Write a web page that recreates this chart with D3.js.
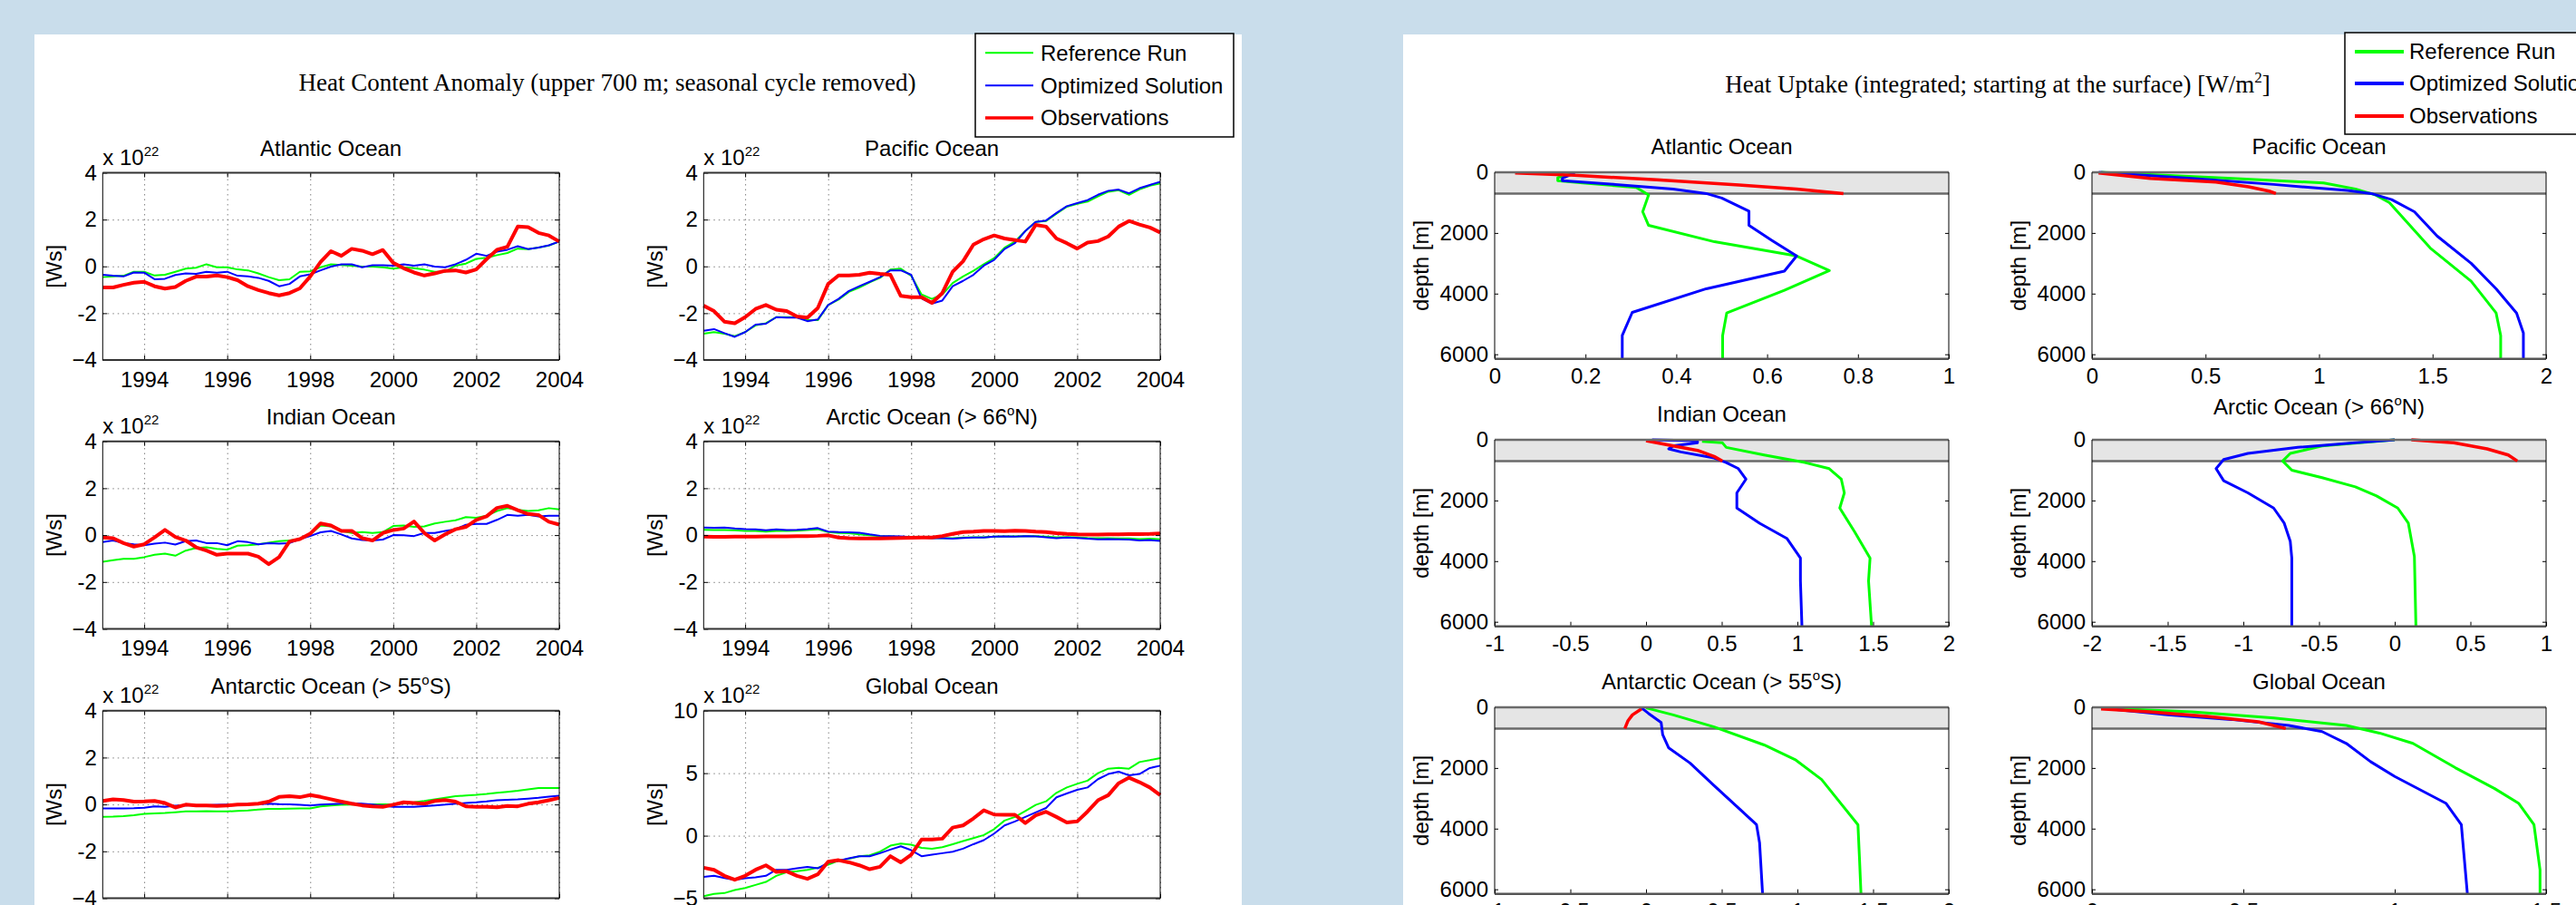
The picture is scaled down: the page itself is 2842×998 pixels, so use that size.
<!DOCTYPE html>
<html><head><meta charset="utf-8">
<script src="https://cdn.jsdelivr.net/npm/d3@7"></script>
<style>
html,body{margin:0;padding:0;background:#c9ddeb;}
svg{display:block;}
</style></head><body>
<svg id="c" width="2842" height="998"></svg>
<script>
// ---------------- DATA ----------------
const legendLabels = ["Reference Run", "Optimized Solution", "Observations"];

// Left: heat content anomaly (x 10^22 Ws), quarterly samples 1993..2004
const years = [1993,1993.25,1993.5,1993.75,1994,1994.25,1994.5,1994.75,1995,1995.25,1995.5,1995.75,
  1996,1996.25,1996.5,1996.75,1997,1997.25,1997.5,1997.75,1998,1998.25,1998.5,1998.75,
  1999,1999.25,1999.5,1999.75,2000,2000.25,2000.5,2000.75,2001,2001.25,2001.5,2001.75,
  2002,2002.25,2002.5,2002.75,2003,2003.25,2003.5,2003.75,2004];
const yearTicks = [1994, 1996, 1998, 2000, 2002, 2004];
const hcYTicks = [-4, -2, 0, 2, 4];
const hcYTickLabels = ["\u22124", "-2", "0", "2", "4"];
const gloYTicks = [-5, 0, 5, 10];
const gloYTickLabels = ["\u22125", "0", "5", "10"];

const hcAtlRef = [-0.46,-0.43,-0.40,-0.23,-0.23,-0.39,-0.36,-0.23,-0.10,-0.06,0.09,-0.04,-0.04,-0.13,-0.17,-0.30,-0.46,-0.59,-0.55,-0.23,-0.21,-0.04,0.09,0.06,0.03,-0.01,-0.01,-0.04,-0.10,-0.04,-0.08,-0.14,-0.23,-0.23,0.03,0.12,0.32,0.37,0.48,0.57,0.76,0.74,0.80,0.89,1.06];
const hcAtlOpt = [-0.36,-0.40,-0.43,-0.26,-0.27,-0.55,-0.53,-0.37,-0.30,-0.32,-0.23,-0.27,-0.23,-0.40,-0.43,-0.49,-0.62,-0.85,-0.75,-0.43,-0.34,-0.17,-0.01,0.09,0.09,-0.04,0.05,0.05,0.03,0.09,0.03,0.09,-0.01,-0.04,0.09,0.28,0.54,0.45,0.63,0.71,0.86,0.74,0.80,0.90,1.06];
const hcAtlObs = [-0.90,-0.90,-0.79,-0.70,-0.66,-0.85,-0.95,-0.88,-0.62,-0.44,-0.44,-0.39,-0.46,-0.59,-0.85,-1.01,-1.14,-1.24,-1.14,-0.94,-0.43,0.19,0.65,0.45,0.75,0.67,0.52,0.70,0.15,-0.08,-0.26,-0.39,-0.30,-0.19,-0.17,-0.26,-0.13,0.31,0.71,0.84,1.70,1.68,1.43,1.32,1.06];

const hcPacRef = [-2.88,-2.81,-2.88,-2.98,-2.81,-2.52,-2.43,-2.17,-2.17,-2.17,-2.30,-2.30,-1.65,-1.42,-1.09,-0.90,-0.68,-0.49,-0.14,-0.10,-0.40,-1.20,-1.39,-1.20,-0.71,-0.43,-0.19,0.09,0.35,0.80,1.06,1.51,1.90,1.94,2.25,2.55,2.67,2.77,2.99,3.19,3.25,3.06,3.29,3.45,3.54];
const hcPacOpt = [-2.75,-2.68,-2.85,-3.01,-2.81,-2.49,-2.45,-2.17,-2.19,-2.19,-2.34,-2.27,-1.65,-1.39,-1.05,-0.85,-0.66,-0.46,-0.17,-0.17,-0.36,-1.37,-1.59,-1.46,-0.85,-0.62,-0.36,0.03,0.28,0.74,0.99,1.51,1.90,1.96,2.28,2.57,2.70,2.83,3.06,3.23,3.28,3.12,3.34,3.48,3.61];
const hcPacObs = [-1.68,-1.91,-2.36,-2.43,-2.17,-1.82,-1.65,-1.85,-1.91,-2.14,-2.19,-1.78,-0.75,-0.39,-0.39,-0.36,-0.27,-0.32,-0.36,-1.26,-1.32,-1.32,-1.56,-1.14,-0.23,0.22,0.93,1.16,1.32,1.19,1.12,1.06,1.77,1.70,1.19,0.99,0.76,1.02,1.08,1.28,1.70,1.94,1.79,1.66,1.45];

const hcIndRef = [-1.14,-1.07,-1.01,-1.01,-0.94,-0.84,-0.79,-0.88,-0.66,-0.55,-0.52,-0.59,-0.62,-0.45,-0.43,-0.39,-0.32,-0.26,-0.23,-0.17,0.03,0.41,0.37,0.18,0.09,0.13,0.09,0.13,0.39,0.41,0.35,0.37,0.50,0.57,0.63,0.77,0.74,0.83,1.03,1.15,1.08,1.03,1.06,1.15,1.10];
const hcIndOpt = [-0.30,-0.23,-0.34,-0.39,-0.43,-0.36,-0.32,-0.40,-0.26,-0.23,-0.34,-0.34,-0.43,-0.26,-0.30,-0.39,-0.34,-0.36,-0.34,-0.17,-0.04,0.12,0.18,0.03,-0.14,-0.21,-0.23,-0.19,0.00,-0.01,-0.04,0.09,0.09,0.18,0.25,0.44,0.48,0.48,0.65,0.86,0.83,0.86,0.80,0.83,0.83];
const hcIndObs = [-0.10,-0.13,-0.34,-0.49,-0.39,-0.10,0.22,-0.08,-0.23,-0.52,-0.66,-0.84,-0.79,-0.79,-0.79,-0.92,-1.24,-0.94,-0.27,-0.17,0.06,0.50,0.41,0.18,0.18,-0.13,-0.23,0.09,0.22,0.28,0.58,0.09,-0.23,0.03,0.25,0.35,0.65,0.80,1.16,1.25,1.06,0.90,0.86,0.57,0.45];

const hcArcRef = [0.23,0.22,0.22,0.21,0.18,0.18,0.15,0.18,0.18,0.19,0.22,0.25,0.13,0.09,0.08,0.03,-0.01,-0.04,-0.05,-0.08,-0.09,-0.10,-0.12,-0.13,-0.13,-0.10,-0.09,-0.09,-0.06,-0.05,-0.05,-0.04,-0.04,-0.06,-0.09,-0.08,-0.09,-0.12,-0.13,-0.13,-0.14,-0.14,-0.17,-0.15,-0.18];
const hcArcOpt = [0.32,0.31,0.32,0.28,0.26,0.25,0.21,0.25,0.22,0.23,0.26,0.30,0.15,0.13,0.12,0.10,0.03,-0.03,-0.04,-0.05,-0.08,-0.10,-0.13,-0.13,-0.15,-0.12,-0.10,-0.10,-0.06,-0.05,-0.06,-0.04,-0.05,-0.09,-0.13,-0.10,-0.12,-0.15,-0.18,-0.17,-0.18,-0.19,-0.23,-0.21,-0.25];
const hcArcObs = [-0.06,-0.07,-0.07,-0.06,-0.06,-0.06,-0.05,-0.05,-0.05,-0.04,-0.04,-0.03,-0.01,-0.10,-0.13,-0.14,-0.14,-0.14,-0.13,-0.12,-0.11,-0.10,-0.10,-0.04,0.05,0.13,0.15,0.18,0.18,0.17,0.19,0.18,0.15,0.13,0.08,0.05,0.03,0.02,0.02,0.03,0.03,0.04,0.04,0.05,0.07];

const hcAntRef = [-0.53,-0.52,-0.50,-0.46,-0.40,-0.38,-0.36,-0.33,-0.30,-0.30,-0.29,-0.30,-0.30,-0.28,-0.26,-0.22,-0.19,-0.19,-0.18,-0.17,-0.17,-0.08,-0.04,-0.02,-0.01,0.00,0.00,0.00,0.01,0.05,0.09,0.15,0.22,0.28,0.35,0.38,0.41,0.45,0.50,0.54,0.58,0.64,0.70,0.70,0.70];
const hcAntOpt = [-0.17,-0.17,-0.17,-0.16,-0.14,-0.08,-0.10,-0.05,-0.04,-0.03,-0.03,-0.02,-0.01,0.00,0.01,0.02,0.03,0.01,0.00,-0.02,-0.04,-0.01,0.01,0.03,0.05,0.03,-0.01,-0.05,-0.10,-0.10,-0.10,-0.07,-0.04,-0.01,0.03,0.06,0.09,0.13,0.18,0.20,0.22,0.25,0.28,0.33,0.37];
const hcAntObs = [0.15,0.22,0.19,0.12,0.13,0.15,0.06,-0.13,-0.01,-0.04,-0.04,-0.06,-0.04,-0.01,0.00,0.03,0.12,0.32,0.35,0.31,0.40,0.32,0.22,0.12,0.03,-0.04,-0.08,-0.10,-0.01,0.09,0.06,0.03,0.15,0.19,0.12,-0.08,-0.10,-0.10,-0.12,-0.06,-0.08,0.03,0.09,0.18,0.28];

const hcGloRef = [-4.83,-4.66,-4.59,-4.35,-4.18,-3.94,-3.70,-3.21,-2.92,-2.85,-2.73,-2.56,-2.32,-2.00,-1.84,-1.64,-1.57,-1.28,-0.80,-0.63,-0.72,-0.97,-1.04,-0.92,-0.68,-0.43,-0.19,0.05,0.53,1.21,1.50,1.98,2.46,2.75,3.43,3.86,4.15,4.40,5.00,5.36,5.43,5.36,5.89,6.04,6.21];
const hcGloOpt = [-3.29,-3.21,-3.38,-3.53,-3.41,-3.33,-3.21,-2.73,-2.73,-2.61,-2.49,-2.61,-2.17,-2.00,-1.81,-1.64,-1.64,-1.40,-1.11,-0.85,-1.16,-1.64,-1.52,-1.40,-1.28,-1.04,-0.68,-0.36,0.17,0.82,1.14,1.50,1.86,2.22,3.07,3.38,3.67,3.86,4.52,4.93,5.12,4.83,4.93,5.41,5.60];
const hcGloObs = [-2.56,-2.73,-3.21,-3.53,-3.21,-2.73,-2.37,-2.90,-2.85,-3.21,-3.45,-3.09,-2.08,-1.96,-2.13,-2.37,-2.68,-2.49,-1.64,-2.13,-1.52,-0.31,-0.31,-0.24,0.65,0.82,1.38,2.03,1.69,1.67,1.67,1.01,1.62,1.91,1.50,1.06,1.14,1.93,2.83,3.24,4.20,4.64,4.28,3.86,3.24];

// Right: heat uptake profiles [value W/m^2, depth m]
const depthTicks = [0, 2000, 4000, 6000];
const upAtlTicks = [0, 0.2, 0.4, 0.6, 0.8, 1];
const upAtlTickLabels = ["0", "0.2", "0.4", "0.6", "0.8", "1"];
const upPacTicks = [0, 0.5, 1, 1.5, 2];
const upPacTickLabels = ["0", "0.5", "1", "1.5", "2"];
const upIndTicks = [-1, -0.5, 0, 0.5, 1, 1.5, 2];
const upIndTickLabels = ["-1", "-0.5", "0", "0.5", "1", "1.5", "2"];
const upArcTicks = [-2, -1.5, -1, -0.5, 0, 0.5, 1];
const upArcTickLabels = ["-2", "-1.5", "-1", "-0.5", "0", "0.5", "1"];
const upGloTicks = [0, 0.5, 1, 1.5];
const upGloTickLabels = ["0", "0.5", "1", "1.5"];

const upAtlRef = [[0.176,20],[0.139,180],[0.139,280],[0.194,350],[0.312,500],[0.339,750],[0.326,1300],[0.339,1750],[0.484,2290],[0.665,2760],[0.737,3240],[0.638,3890],[0.511,4640],[0.502,5380],[0.502,6150]];
const upAtlOpt = [[0.176,20],[0.149,200],[0.149,280],[0.266,400],[0.393,550],[0.466,700],[0.50,850],[0.56,1280],[0.56,1750],[0.61,2240],[0.665,2760],[0.638,3260],[0.466,3840],[0.303,4620],[0.281,5380],[0.281,6150]];
const upAtlObs = [[0.045,20],[0.176,100],[0.357,250],[0.538,420],[0.665,550],[0.768,700]];

const upPacRef = [[0.04,0],[0.62,200],[1.02,350],[1.16,550],[1.25,750],[1.31,1000],[1.40,1750],[1.49,2500],[1.67,3590],[1.78,4640],[1.80,5380],[1.80,6150]];
const upPacOpt = [[0.03,0],[0.44,200],[0.80,400],[1.125,600],[1.23,700],[1.32,900],[1.42,1300],[1.52,2100],[1.67,3000],[1.78,3840],[1.87,4640],[1.90,5300],[1.90,6150]];
const upPacObs = [[0.029,20],[0.257,200],[0.546,320],[0.69,480],[0.78,620],[0.81,700]];

const upIndRef = [[0.37,50],[0.505,100],[0.53,250],[0.78,500],[1.05,750],[1.21,950],[1.29,1300],[1.31,1750],[1.28,2250],[1.38,3050],[1.48,3900],[1.47,4650],[1.49,6150]];
const upIndOpt = [[0.04,0],[0.34,30],[0.34,100],[0.18,200],[0.15,300],[0.23,400],[0.45,600],[0.53,750],[0.61,950],[0.66,1300],[0.60,1750],[0.60,2250],[0.75,2750],[0.93,3250],[1.02,3900],[1.02,4650],[1.03,6150]];
const upIndObs = [[0.0,30],[0.18,200],[0.34,350],[0.45,550],[0.505,700]];

const upArcRef = [[0,0],[-0.48,200],[-0.69,450],[-0.74,700],[-0.68,1000],[-0.48,1250],[-0.26,1550],[-0.12,1850],[0.02,2250],[0.09,2750],[0.13,3850],[0.14,6150]];
const upArcOpt = [[0,0],[-0.26,100],[-0.64,250],[-0.97,450],[-1.13,650],[-1.18,950],[-1.13,1350],[-0.97,1750],[-0.80,2250],[-0.73,2750],[-0.69,3350],[-0.68,3900],[-0.68,6150]];
const upArcObs = [[0.11,0],[0.39,100],[0.61,300],[0.75,500],[0.81,700]];

const upAntRef = [[0,20],[0.18,250],[0.45,645],[0.78,1240],[0.99,1740],[1.16,2380],[1.40,3870],[1.41,4960],[1.42,6150]];
const upAntOpt = [[-0.03,20],[0.016,200],[0.10,500],[0.11,900],[0.15,1340],[0.29,1835],[0.45,2580],[0.60,3270],[0.73,3870],[0.75,4460],[0.77,6150]];
const upAntObs = [[-0.03,50],[-0.09,250],[-0.12,450],[-0.14,700]];

const upGloRef = [[0.03,20],[0.33,150],[0.60,350],[0.84,600],[0.95,850],[1.06,1190],[1.20,1990],[1.33,2680],[1.41,3170],[1.46,3870],[1.48,5360],[1.48,6150]];
const upGloOpt = [[0.03,20],[0.25,250],[0.46,400],[0.65,600],[0.76,800],[0.84,1190],[0.92,1790],[1.00,2280],[1.17,3170],[1.22,3870],[1.24,6150]];
const upGloObs = [[0.03,50],[0.19,150],[0.38,300],[0.55,480],[0.64,700]];

// ---------------- DRAWING ----------------
const SANS = "'Liberation Sans', Arial, Helvetica, sans-serif";
const SERIF = "'Liberation Serif', 'Times New Roman', serif";
const COL = { ref: "#00ff00", opt: "#0000ff", obs: "#ff0000" };
const svg = d3.select("#c");

svg.append("rect").attr("x", 0).attr("y", 0).attr("width", 2842).attr("height", 998).attr("fill", "#c9ddeb");
svg.append("rect").attr("x", 38).attr("y", 38).attr("width", 1332).attr("height", 960).attr("fill", "#ffffff");
svg.append("rect").attr("x", 1548).attr("y", 38).attr("width", 1294).attr("height", 960).attr("fill", "#ffffff");

function richText(g, x, y, parts, size, family, anchor) {
  const t = g.append("text").attr("x", x).attr("y", y).attr("font-family", family)
    .attr("font-size", size).attr("text-anchor", anchor || "middle").attr("fill", "#000");
  let shift = 0;
  parts.forEach(p => {
    const sup = Array.isArray(p);
    const txt = sup ? p[0] : p;
    const target = sup ? -Math.round(size * 0.42) : 0;
    t.append("tspan").attr("dy", target - shift).attr("font-size", sup ? Math.round(size * 0.62) : size).text(txt);
    shift = target;
  });
  return t;
}

function styleAxis(sel, size) {
  sel.select(".domain").remove();
  sel.selectAll("line").attr("stroke", "#000").attr("stroke-width", 1);
  sel.selectAll("text").attr("font-family", SANS).attr("font-size", size).attr("fill", "#000");
  sel.attr("font-family", SANS).attr("font-size", size);
}

// ---- Left: heat content anomaly ----
const hcCols = [[113.3, 617], [776.3, 1280]];
const hcRows = [[190.5, 397], [486.7, 693.5], [783.7, 990.5]];
const hcPanels = [
  { title: ["Atlantic Ocean"], col: 0, row: 0, s: [hcAtlRef, hcAtlOpt, hcAtlObs], dom: [-4, 4], ticks: hcYTicks, labels: hcYTickLabels },
  { title: ["Pacific Ocean"], col: 1, row: 0, s: [hcPacRef, hcPacOpt, hcPacObs], dom: [-4, 4], ticks: hcYTicks, labels: hcYTickLabels },
  { title: ["Indian Ocean"], col: 0, row: 1, s: [hcIndRef, hcIndOpt, hcIndObs], dom: [-4, 4], ticks: hcYTicks, labels: hcYTickLabels },
  { title: ["Arctic Ocean (> 66", ["o"], "N)"], col: 1, row: 1, s: [hcArcRef, hcArcOpt, hcArcObs], dom: [-4, 4], ticks: hcYTicks, labels: hcYTickLabels },
  { title: ["Antarctic Ocean (> 55", ["o"], "S)"], col: 0, row: 2, s: [hcAntRef, hcAntOpt, hcAntObs], dom: [-4, 4], ticks: hcYTicks, labels: hcYTickLabels },
  { title: ["Global Ocean"], col: 1, row: 2, s: [hcGloRef, hcGloOpt, hcGloObs], dom: [-5, 10], ticks: gloYTicks, labels: gloYTickLabels }
];

hcPanels.forEach(p => {
  const [x0, x1] = hcCols[p.col], [y0, y1] = hcRows[p.row];
  const x = d3.scaleLinear().domain([1993, 2004]).range([x0, x1]);
  const y = d3.scaleLinear().domain(p.dom).range([y1, y0]);
  const g = svg.append("g");
  // grid
  g.append("g").attr("transform", `translate(0,${y1})`)
    .call(d3.axisBottom(x).tickValues(yearTicks).tickSize(-(y1 - y0)).tickFormat(""))
    .call(s => { s.select(".domain").remove(); s.selectAll("line").attr("stroke", "#808080").attr("stroke-dasharray", "1.5,4"); });
  g.append("g").attr("transform", `translate(${x0},0)`)
    .call(d3.axisLeft(y).tickValues(p.ticks.slice(1, -1)).tickSize(-(x1 - x0)).tickFormat(""))
    .call(s => { s.select(".domain").remove(); s.selectAll("line").attr("stroke", "#808080").attr("stroke-dasharray", "1.5,4"); });
  // series
  const line = d3.line().x((d, i) => x(years[i])).y(d => y(d));
  const widths = [2, 2, 4];
  ["ref", "opt", "obs"].forEach((k, i) => {
    g.append("path").datum(p.s[i]).attr("d", line).attr("fill", "none")
      .attr("stroke", COL[k]).attr("stroke-width", widths[i]).attr("stroke-linejoin", "round");
  });
  // axes
  g.append("g").attr("transform", `translate(0,${y1})`)
    .call(d3.axisBottom(x).tickValues(yearTicks).tickSize(-5).tickPadding(12.5).tickFormat(d3.format("d")))
    .call(s => styleAxis(s, 24));
  g.append("g").attr("transform", `translate(0,${y0})`)
    .call(d3.axisTop(x).tickValues(yearTicks).tickSize(-5).tickFormat(""))
    .call(s => styleAxis(s, 24));
  g.append("g").attr("transform", `translate(${x0},0)`)
    .call(d3.axisLeft(y).tickValues(p.ticks).tickSize(-5).tickPadding(6.5).tickFormat((d, i) => p.labels[i]))
    .call(s => styleAxis(s, 24));
  g.append("g").attr("transform", `translate(${x1},0)`)
    .call(d3.axisRight(y).tickValues(p.ticks).tickSize(-5).tickFormat(""))
    .call(s => styleAxis(s, 24));
  // box
  g.append("line").attr("x1", x0).attr("x2", x1).attr("y1", y0).attr("y2", y0).attr("stroke", "#333").attr("stroke-width", 2);
  g.append("line").attr("x1", x0).attr("x2", x1).attr("y1", y1).attr("y2", y1).attr("stroke", "#333").attr("stroke-width", 2);
  g.append("line").attr("x1", x0).attr("x2", x0).attr("y1", y0).attr("y2", y1).attr("stroke", "#000").attr("stroke-width", 1);
  g.append("line").attr("x1", x1).attr("x2", x1).attr("y1", y0).attr("y2", y1).attr("stroke", "#000").attr("stroke-width", 1);
  // labels
  richText(g, (x0 + x1) / 2, y0 - 19, p.title, 24, SANS, "middle");
  richText(g, x0, y0 - 9, ["x 10", ["22"]], 24, SANS, "start");
  g.append("text").attr("transform", `translate(${x0 - 54},${(y0 + y1) / 2}) rotate(-90)`)
    .attr("text-anchor", "middle").attr("dominant-baseline", "central")
    .attr("font-family", SANS).attr("font-size", 24).text("[Ws]");
});

// ---- Right: heat uptake ----
const upCols = [[1649, 2150], [2308, 2809]];
const upRows = [[190, 395.7], [485, 690.7], [780, 985.7]];
const upPanels = [
  { title: ["Atlantic Ocean"], col: 0, row: 0, s: [upAtlRef, upAtlOpt, upAtlObs], dom: [0, 1], ticks: upAtlTicks, labels: upAtlTickLabels, tdy: 20 },
  { title: ["Pacific Ocean"], col: 1, row: 0, s: [upPacRef, upPacOpt, upPacObs], dom: [0, 2], ticks: upPacTicks, labels: upPacTickLabels, tdy: 20 },
  { title: ["Indian Ocean"], col: 0, row: 1, s: [upIndRef, upIndOpt, upIndObs], dom: [-1, 2], ticks: upIndTicks, labels: upIndTickLabels, tdy: 20 },
  { title: ["Arctic Ocean (> 66", ["o"], "N)"], col: 1, row: 1, s: [upArcRef, upArcOpt, upArcObs], dom: [-2, 1], ticks: upArcTicks, labels: upArcTickLabels, tdy: 28 },
  { title: ["Antarctic Ocean (> 55", ["o"], "S)"], col: 0, row: 2, s: [upAntRef, upAntOpt, upAntObs], dom: [-1, 2], ticks: upIndTicks, labels: upIndTickLabels, tdy: 20 },
  { title: ["Global Ocean"], col: 1, row: 2, s: [upGloRef, upGloOpt, upGloObs], dom: [0, 1.5], ticks: upGloTicks, labels: upGloTickLabels, tdy: 20 }
];

upPanels.forEach(p => {
  const [x0, x1] = upCols[p.col], [y0, y1] = upRows[p.row];
  const x = d3.scaleLinear().domain(p.dom).range([x0, x1]);
  const y = d3.scaleLinear().domain([0, 6150]).range([y0, y1]);
  const g = svg.append("g");
  // upper 700 m band
  g.append("rect").attr("x", x0).attr("y", y(0)).attr("width", x1 - x0).attr("height", y(700) - y(0)).attr("fill", "#e5e5e5");
  g.append("line").attr("x1", x0).attr("x2", x1).attr("y1", y(700)).attr("y2", y(700)).attr("stroke", "#6a6a6a").attr("stroke-width", 2.5);
  // series
  const line = d3.line().x(d => x(d[0])).y(d => y(d[1]));
  const widths = [3, 3, 3.5];
  ["ref", "opt", "obs"].forEach((k, i) => {
    g.append("path").datum(p.s[i]).attr("d", line).attr("fill", "none")
      .attr("stroke", COL[k]).attr("stroke-width", widths[i]).attr("stroke-linejoin", "round");
  });
  // axes
  g.append("g").attr("transform", `translate(0,${y1})`)
    .call(d3.axisBottom(x).tickValues(p.ticks).tickSize(-5).tickPadding(10.5).tickFormat((d, i) => p.labels[i]))
    .call(s => styleAxis(s, 24));
  g.append("g").attr("transform", `translate(${x0},0)`)
    .call(d3.axisLeft(y).tickValues(depthTicks).tickSize(-4).tickPadding(7).tickFormat(d3.format("d")))
    .call(s => styleAxis(s, 24));
  g.append("g").attr("transform", `translate(${x1},0)`)
    .call(d3.axisRight(y).tickValues(depthTicks).tickSize(-4).tickFormat(""))
    .call(s => styleAxis(s, 24));
  // box
  g.append("line").attr("x1", x0).attr("x2", x1).attr("y1", y0).attr("y2", y0).attr("stroke", "#6a6a6a").attr("stroke-width", 2.5);
  g.append("line").attr("x1", x0).attr("x2", x1).attr("y1", y1).attr("y2", y1).attr("stroke", "#555").attr("stroke-width", 2.5);
  g.append("line").attr("x1", x0).attr("x2", x0).attr("y1", y0).attr("y2", y1).attr("stroke", "#000").attr("stroke-width", 1);
  g.append("line").attr("x1", x1).attr("x2", x1).attr("y1", y0).attr("y2", y1).attr("stroke", "#000").attr("stroke-width", 1);
  // labels
  richText(g, (x0 + x1) / 2, y0 - p.tdy, p.title, 24, SANS, "middle");
  g.append("text").attr("transform", `translate(${x0 - 82},${(y0 + y1) / 2}) rotate(-90)`)
    .attr("text-anchor", "middle").attr("dominant-baseline", "central")
    .attr("font-family", SANS).attr("font-size", 24).text("depth [m]");
});

// ---- Main titles ----
richText(svg, 670, 100, ["Heat Content Anomaly (upper 700 m; seasonal cycle removed)"], 27, SERIF, "middle");
richText(svg, 2204, 101.5, ["Heat Uptake (integrated; starting at the surface) [W/m", ["2"], "]"], 27, SERIF, "middle");

// ---- Legends ----
function legend(bx, by, bw, bh, lx0, lx1, tx, rowsY, widths) {
  const g = svg.append("g");
  g.append("rect").attr("x", bx).attr("y", by).attr("width", bw).attr("height", bh)
    .attr("fill", "#fff").attr("stroke", "#000").attr("stroke-width", 1.5);
  ["ref", "opt", "obs"].forEach((k, i) => {
    g.append("line").attr("x1", lx0).attr("x2", lx1).attr("y1", rowsY[i]).attr("y2", rowsY[i])
      .attr("stroke", COL[k]).attr("stroke-width", widths[i]);
    g.append("text").attr("x", tx).attr("y", rowsY[i]).attr("dy", "0.35em")
      .attr("font-family", SANS).attr("font-size", 24).attr("fill", "#000").text(legendLabels[i]);
  });
}
legend(1076, 37, 285, 114, 1087, 1140, 1148, [58.3, 94.3, 130], [2, 2, 3.5]);
legend(2587, 36, 300, 112, 2598, 2652, 2658, [57, 92, 128], [4, 4, 4]);
</script>
</body></html>
